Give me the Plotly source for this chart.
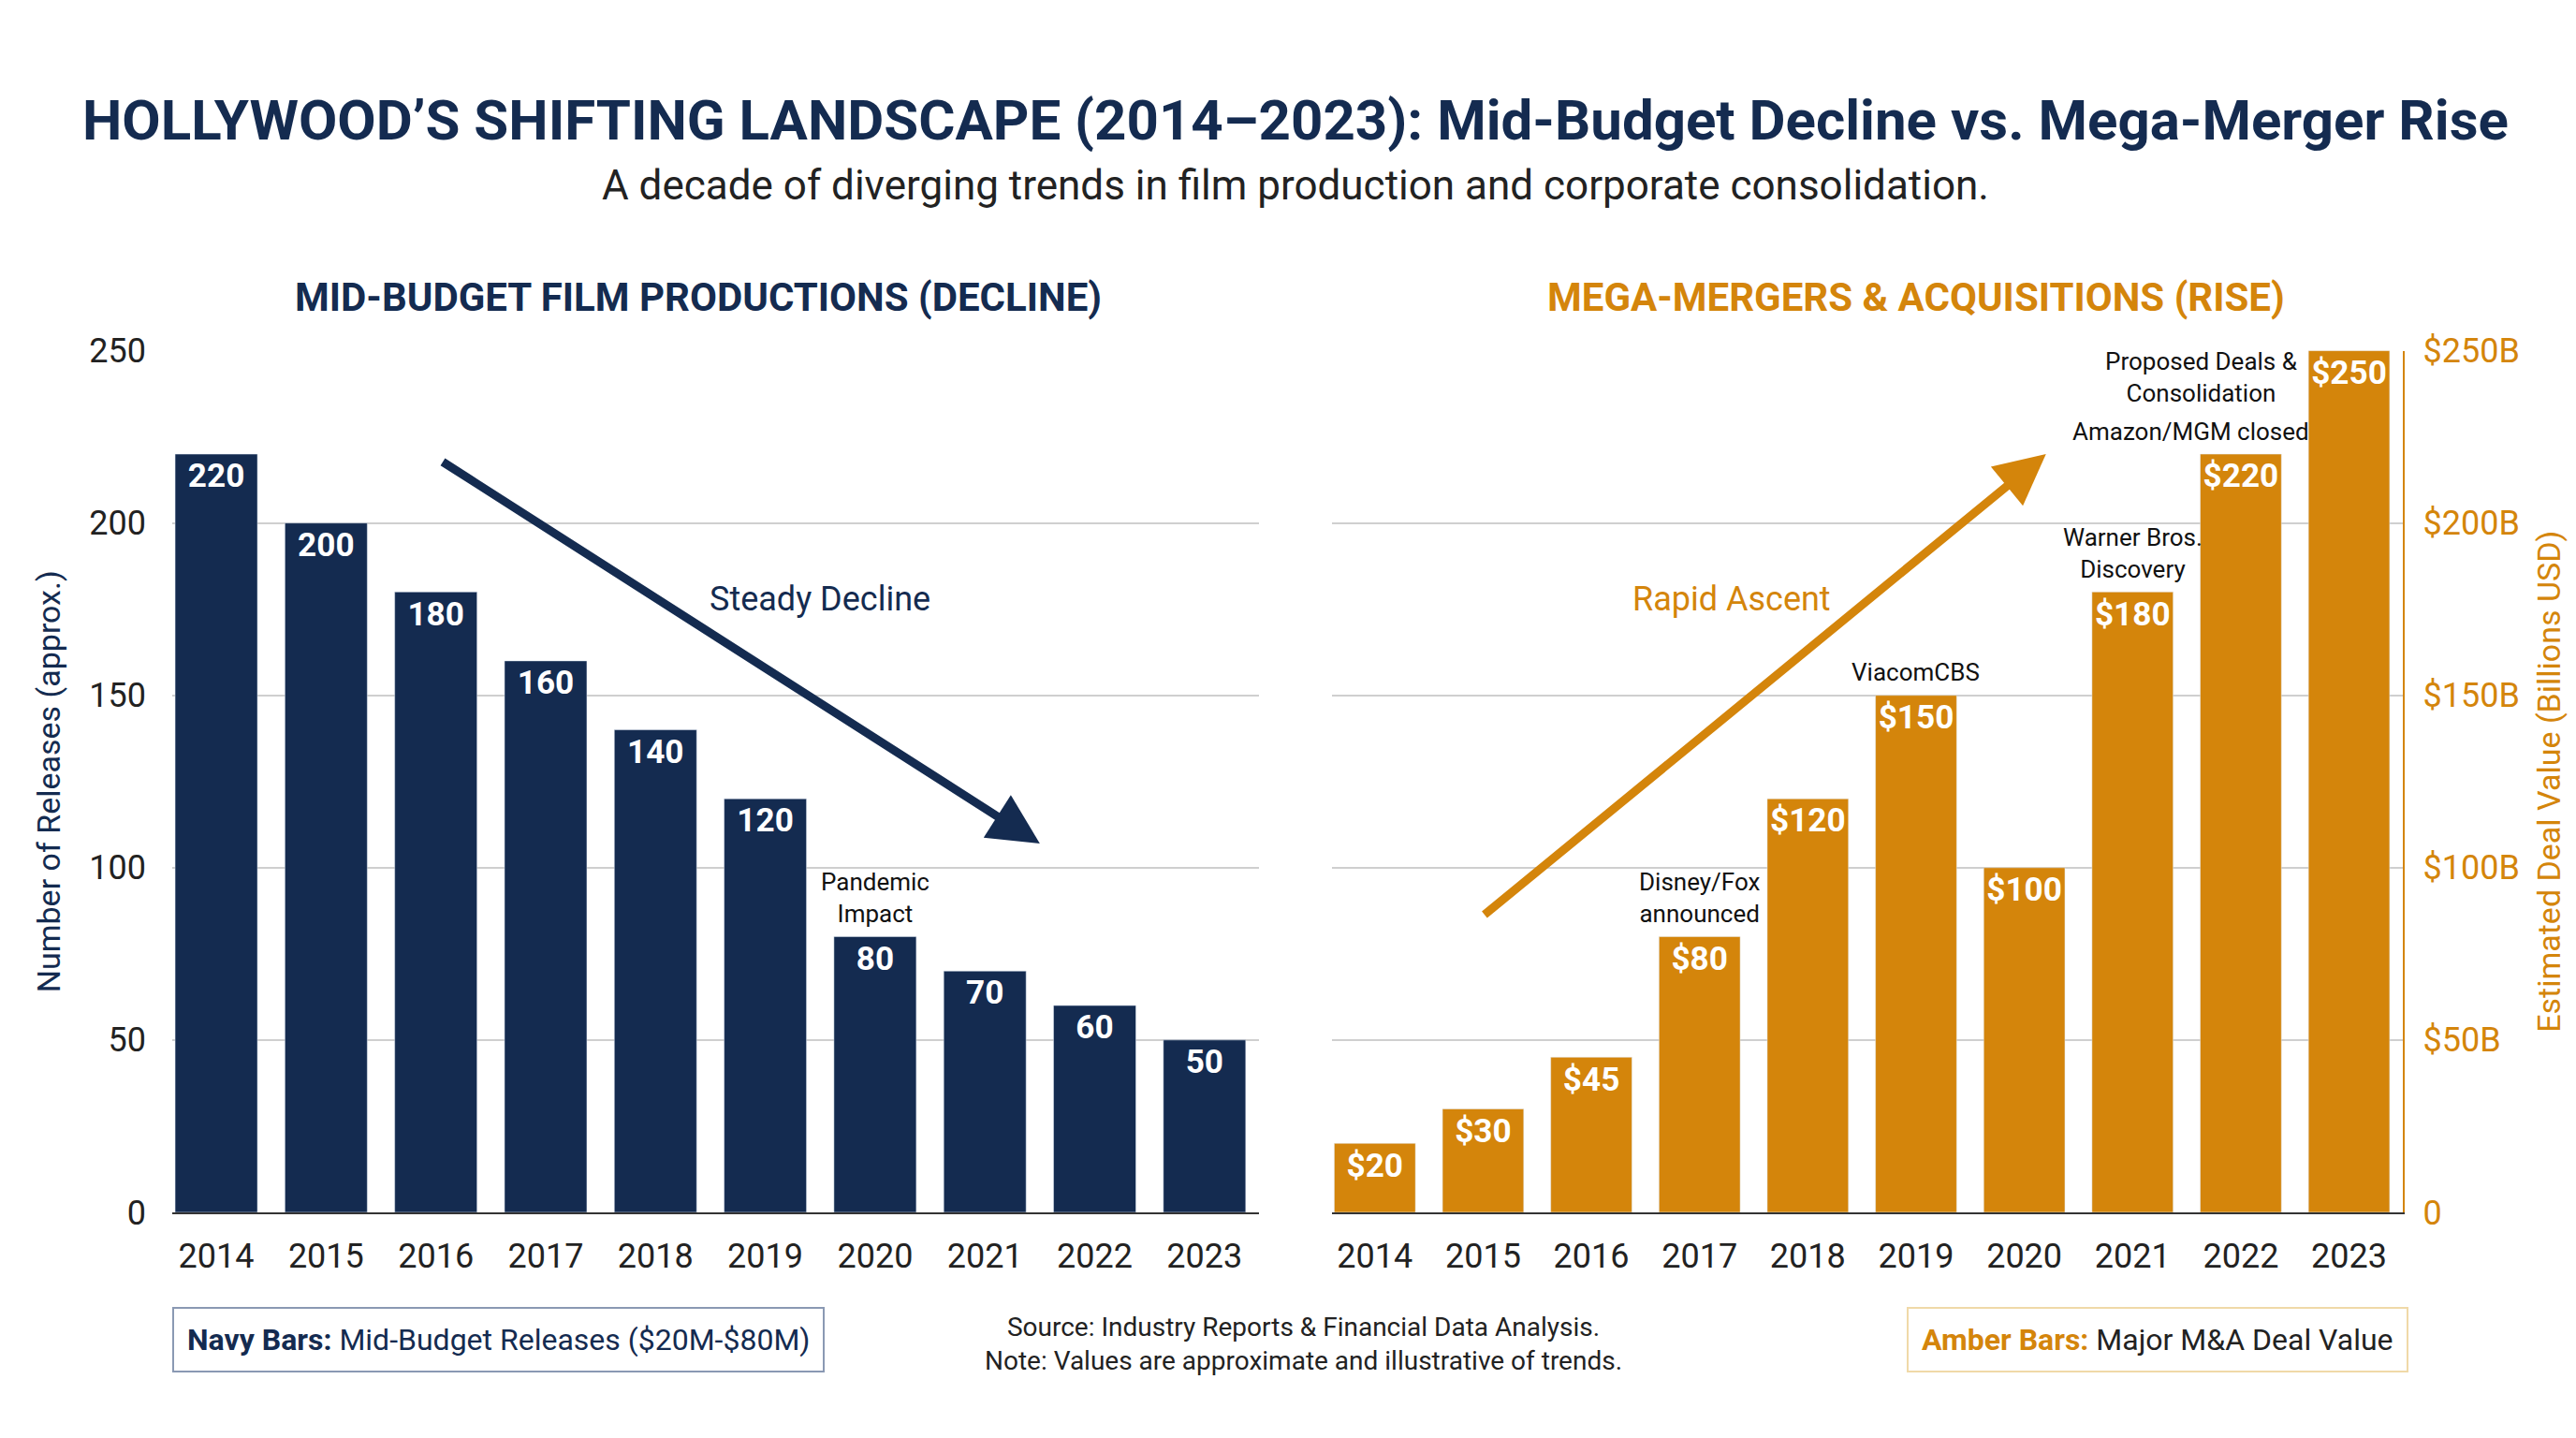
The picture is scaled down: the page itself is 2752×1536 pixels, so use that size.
import plotly.graph_objects as go

years = [2014, 2015, 2016, 2017, 2018, 2019, 2020, 2021, 2022, 2023]
mid_budget = [220, 200, 180, 160, 140, 120, 80, 70, 60, 50]
mergers = [20, 30, 45, 80, 120, 150, 100, 180, 220, 250]
mid_labels = [str(v) for v in mid_budget]
merger_labels = ["$" + str(v) for v in mergers]
left_ticks = [0, 50, 100, 150, 200, 250]
right_ticks = ["0", "$50B", "$100B", "$150B", "$200B", "$250B"]

NAVY = "#142b50"
AMBER = "#d4850b"
F = "Roboto"

fig = go.Figure()
fig.add_trace(go.Bar(x=years, y=mid_budget, marker_color=NAVY, width=0.75, text=mid_labels,
                     textposition="inside", insidetextanchor="end", textangle=0,
                     textfont=dict(family=F, size=36, color="white", weight="bold"),
                     xaxis="x", yaxis="y"))
fig.add_trace(go.Bar(x=years, y=mergers, marker_color=AMBER, width=0.75, text=merger_labels,
                     textposition="inside", insidetextanchor="end", textangle=0,
                     textfont=dict(family=F, size=36, color="white", weight="bold"),
                     xaxis="x2", yaxis="y2"))

ax_common = dict(range=[2013.6, 2023.5], tickvals=years, ticks="outside", ticklen=14, tickcolor="white",
                 showgrid=False, showline=True, linecolor="#333", linewidth=2,
                 tickfont=dict(family=F, size=36, color="#222"))
fig.update_layout(
    width=2752, height=1536, plot_bgcolor="white", paper_bgcolor="white",
    showlegend=False, margin=dict(l=0, r=0, t=0, b=0), bargap=0.25,
    uniformtext=dict(mode="show", minsize=10),
    xaxis=dict(domain=[0.064, 0.486], anchor="y", **ax_common),
    xaxis2=dict(domain=[0.514, 0.93], anchor="y2", **ax_common),
    yaxis=dict(domain=[0.152, 0.768], range=[0, 250], tickvals=left_ticks,
               gridcolor="#cfcfcf", gridwidth=1.5, zeroline=False, ticks="outside", ticklen=20, tickcolor="white",
               tickfont=dict(family=F, size=36, color="#222"),
               title=dict(text="Number of Releases (approx.)", font=dict(family=F, size=34, color=NAVY), standoff=20)),
    yaxis2=dict(domain=[0.152, 0.768], range=[0, 250], tickvals=left_ticks, ticktext=right_ticks,
                side="right", anchor="x2", gridcolor="#cfcfcf", gridwidth=1.5, zeroline=False,
                showline=True, linecolor=AMBER, linewidth=2, ticks="outside", ticklen=12, tickcolor="white",
                tickfont=dict(family=F, size=36, color=AMBER),
                title=dict(text="Estimated Deal Value (Billions USD)", font=dict(family=F, size=34, color=AMBER), standoff=20)),
)

def ann(**k):
    k.setdefault("xanchor", "center")
    k.setdefault("yanchor", "middle")
    fig.add_annotation(**k)

ann(text="<b>HOLLYWOOD’S SHIFTING LANDSCAPE (2014–2023): Mid-Budget Decline vs. Mega-Merger Rise</b>",
    xref="paper", yref="paper", x=0.5, y=0.933, showarrow=False, font=dict(family=F, size=60, color=NAVY))
ann(text="A decade of diverging trends in film production and corporate consolidation.",
    xref="paper", yref="paper", x=0.5, y=0.886, showarrow=False, font=dict(family=F, size=44, color="#222"))
ann(text="<b>MID-BUDGET FILM PRODUCTIONS (DECLINE)</b>", xref="paper", yref="paper", x=0.268, y=0.806,
    showarrow=False, font=dict(family=F, size=42, color=NAVY))
ann(text="<b>MEGA-MERGERS & ACQUISITIONS (RISE)</b>", xref="paper", yref="paper", x=0.741, y=0.806,
    showarrow=False, font=dict(family=F, size=42, color=AMBER))

# arrows
ann(x=2021.5, y=107, ax=2016.05, ay=218, xref="x", yref="y", axref="x", ayref="y",
    showarrow=True, arrowhead=2, arrowsize=1.2, arrowwidth=9, arrowcolor=NAVY, text="")
ann(text="Steady Decline", x=2019.5, y=178, xref="x", yref="y", showarrow=False,
    font=dict(family=F, size=36, color=NAVY))
ann(x=2020.2, y=220, ax=2015.0, ay=86, xref="x2", yref="y2", axref="x2", ayref="y2",
    showarrow=True, arrowhead=2, arrowsize=1.2, arrowwidth=9, arrowcolor=AMBER, text="")
ann(text="Rapid Ascent", x=2017.3, y=178, xref="x2", yref="y2", showarrow=False,
    font=dict(family=F, size=36, color=AMBER))

# event notes
def note(t, x, y, xr="x2", yr="y2", xa="center"):
    ann(text=t, x=x, y=y, xref=xr, yref=yr, showarrow=False, yanchor="bottom", xanchor=xa,
        font=dict(family=F, size=26, color="#111"))
note("Pandemic<br>Impact", 2020, 82, "x", "y")
note("Disney/Fox<br>announced", 2017, 82)
note("ViacomCBS", 2019, 152)
note("Warner Bros.<br>Discovery", 2021, 182)
note("Amazon/MGM closed", 2022.65, 222, xa="right")
note("Proposed Deals &<br>Consolidation", 2022.55, 233, xa="right")

# footer
ann(text="<b>Navy Bars:</b> Mid-Budget Releases ($20M-$80M)", xref="paper", yref="paper", x=0.064, y=0.061,
    xanchor="left", showarrow=False, bordercolor="#8a99b3", borderwidth=2, borderpad=14,
    font=dict(family=F, size=32, color=NAVY))
ann(text="<b><span style='color:#d4850b'>Amber Bars:</span></b> Major M&A Deal Value", xref="paper", yref="paper",
    x=0.932, y=0.061, xanchor="right", showarrow=False, bordercolor="#f0d9a8", borderwidth=2, borderpad=14,
    font=dict(family=F, size=32, color="#222"))
ann(text="Source: Industry Reports & Financial Data Analysis.<br>Note: Values are approximate and illustrative of trends.",
    xref="paper", yref="paper", x=0.503, y=0.058, showarrow=False, font=dict(family=F, size=28, color="#222"))

fig.write_html("out.html")
